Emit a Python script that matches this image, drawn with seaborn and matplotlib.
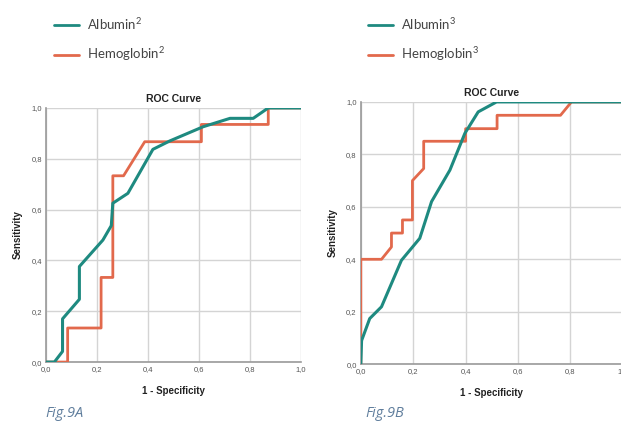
import matplotlib
matplotlib.use("Agg")
import matplotlib.pyplot as plt
import seaborn as sns
import pandas as pd
from matplotlib.lines import Line2D

# ---- data ----
alb_a_x = [0.0, 0.033, 0.065, 0.065, 0.131, 0.131, 0.223, 0.256, 0.262, 0.321, 0.419, 0.485, 0.616, 0.721, 0.812, 0.871, 1.0]
alb_a_y = [0.0, 0.0, 0.042, 0.17, 0.247, 0.376, 0.48, 0.537, 0.625, 0.664, 0.837, 0.87, 0.926, 0.959, 0.959, 1.0, 1.0]
hem_a_x = [0.0, 0.085, 0.085, 0.216, 0.216, 0.262, 0.262, 0.304, 0.387, 0.609, 0.609, 0.871, 0.871, 1.0]
hem_a_y = [0.0, 0.0, 0.134, 0.134, 0.333, 0.333, 0.733, 0.733, 0.867, 0.867, 0.935, 0.935, 1.0, 1.0]

alb_b_x = [0.0, 0.003, 0.034, 0.079, 0.155, 0.225, 0.27, 0.34, 0.397, 0.448, 0.518, 1.0]
alb_b_y = [0.0, 0.09, 0.174, 0.219, 0.396, 0.48, 0.62, 0.74, 0.88, 0.962, 1.0, 1.0]
hem_b_x = [0.0, 0.0, 0.079, 0.117, 0.117, 0.159, 0.159, 0.197, 0.197, 0.24, 0.24, 0.40, 0.40, 0.52, 0.52, 0.762, 0.804, 1.0]
hem_b_y = [0.0, 0.4, 0.4, 0.447, 0.5, 0.5, 0.55, 0.55, 0.70, 0.746, 0.85, 0.85, 0.898, 0.898, 0.949, 0.949, 1.0, 1.0]

ticks = [0.0, 0.2, 0.4, 0.6, 0.8, 1.0]
tick_labels = ["0,0", "0,2", "0,4", "0,6", "0,8", "1,0"]

TEAL = "#1e8a80"
ORANGE = "#e2694c"

sns.set_style("white")
plt.rcParams["font.family"] = ["Liberation Sans", "DejaVu Sans"]
plt.rcParams["mathtext.fontset"] = "custom"
plt.rcParams["mathtext.rm"] = "Lato"

fig = plt.figure(figsize=(6.21, 4.30), dpi=100)

def panel(rect, ax_x, ay, hx, hy):
    ax = fig.add_axes(rect)
    da = pd.DataFrame({"x": ax_x, "y": ay})
    dh = pd.DataFrame({"x": hx, "y": hy})
    sns.lineplot(data=dh, x="x", y="y", sort=False, estimator=None, color=ORANGE, lw=2.0, ax=ax, zorder=3)
    sns.lineplot(data=da, x="x", y="y", sort=False, estimator=None, color=TEAL, lw=2.2, ax=ax, zorder=4)
    ax.set_xlim(0, 1.0)
    ax.set_ylim(0, 1.0)
    ax.set_xticks(ticks)
    ax.set_yticks(ticks)
    ax.set_xticklabels(tick_labels)
    ax.set_yticklabels(tick_labels)
    ax.grid(True, color="#d4d4d4", lw=1.0)
    ax.set_axisbelow(True)
    for s in ["top", "right"]:
        ax.spines[s].set_visible(False)
    for s in ["left", "bottom"]:
        ax.spines[s].set_color("#9a9a9a")
        ax.spines[s].set_linewidth(1.2)
    ax.tick_params(axis="both", length=0, labelsize=5.5, labelcolor="#555555", pad=3)
    ax.set_xlabel("1 - Specificity", fontsize=7, fontweight="bold", color="#222222", labelpad=9)
    ax.set_ylabel("Sensitivity", fontsize=7, fontweight="bold", color="#222222", labelpad=6)
    ax.set_title("ROC Curve", fontsize=7.5, fontweight="bold", color="#222222", pad=4)
    return ax

axA = panel([0.074, 0.158, 0.411, 0.591], alb_a_x, alb_a_y, hem_a_x, hem_a_y)
axB = panel([0.581, 0.153, 0.422, 0.610], alb_b_x, alb_b_y, hem_b_x, hem_b_y)

def legend(x, sup):
    handles = [Line2D([], [], color=TEAL, lw=2.0), Line2D([], [], color=ORANGE, lw=2.0)]
    labels = ["Albumin$^{%s}$" % sup, "Hemoglobin$^{%s}$" % sup]
    fig.legend(handles, labels, loc="upper left", bbox_to_anchor=(x, 0.985),
               frameon=False, prop={"family": "Lato", "size": 9.5},
               labelcolor="#444444", handlelength=1.9, handletextpad=0.6,
               labelspacing=1.05, borderaxespad=0.3)

legend(0.072, "2")
legend(0.577, "3")

fig.text(0.073, 0.03, "Fig.9A", fontsize=10.5, style="italic", color="#5f7d9c", family="Open Sans")
fig.text(0.588, 0.03, "Fig.9B", fontsize=10.5, style="italic", color="#5f7d9c", family="Open Sans")

fig.savefig("out.png", dpi=100)
